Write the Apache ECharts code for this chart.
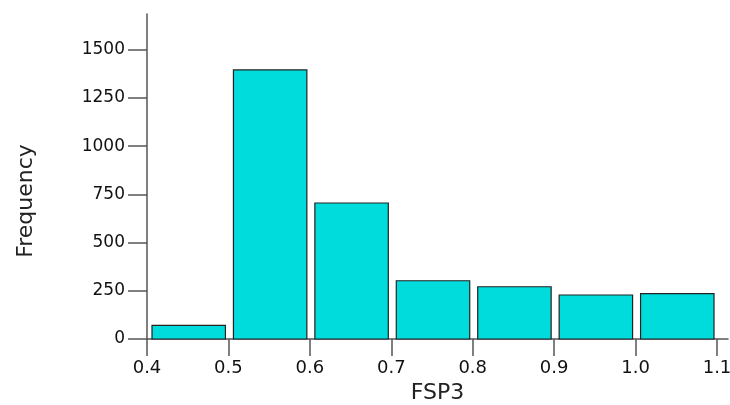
<!DOCTYPE html>
<html>
<head>
<meta charset="utf-8">
<script src="https://cdn.jsdelivr.net/npm/echarts@6/dist/echarts.min.js"></script>
<style>
  html, body { margin: 0; padding: 0; background: #fff; }
  #chart { width: 730px; height: 405px; }
</style>
</head>
<body>
<div id="chart"></div>
<script>
// histogram bins (FSP3) and counts
const binStarts = [0.4, 0.5, 0.6, 0.7, 0.8, 0.9, 1.0];
const binEnds = [0.5, 0.6, 0.7, 0.8, 0.9, 1.0, 1.1];
const counts = [71, 1395, 705, 302, 271, 228, 235];
const xTicks = [0.4, 0.5, 0.6, 0.7, 0.8, 0.9, 1.0, 1.1];
const yTicks = [0, 250, 500, 750, 1000, 1250, 1500];

let binData = binStarts.map((s, i) => [s, binEnds[i], counts[i]]);

let chart = echarts.init(document.getElementById('chart'));
let axisColor = '#555';
let font = 'DejaVu Sans, Verdana, sans-serif';

chart.setOption({
    animation: false,
    grid: { left: 147, right: 2, top: 14, bottom: 66, outerBoundsMode: 'none' },
    xAxis: {
        type: 'value',
        min: 0.4,
        max: 1.1135,
        name: 'FSP3',
        nameLocation: 'middle',
        nameGap: 41,
        nameTextStyle: { color: '#222', fontSize: 22, fontFamily: font },
        splitLine: { show: false },
        axisLine: { onZero: false, lineStyle: { color: axisColor, width: 1.5 } },
        axisTick: { customValues: xTicks, inside: false, length: 17, lineStyle: { color: axisColor, width: 1.5 } },
        axisLabel: {
            customValues: xTicks,
            color: '#111', fontSize: 18, fontFamily: font, margin: 20,
            formatter: v => v.toFixed(1)
        }
    },
    yAxis: {
        type: 'value',
        min: 0,
        max: 1685,
        name: 'Frequency',
        nameLocation: 'middle',
        nameGap: 110,
        nameTextStyle: { color: '#222', fontSize: 22, fontFamily: font, padding: [0, 49, 0, 0] },
        splitLine: { show: false },
        axisLine: { show: true, lineStyle: { color: axisColor, width: 1.5 } },
        axisTick: { show: true, inside: false, customValues: yTicks, length: 19, lineStyle: { color: axisColor, width: 1.5 } },
        axisLabel: {
            customValues: yTicks, color: '#111', fontSize: 17, fontFamily: font, margin: 22,
            formatter: v => String(v)
        }
    },
    series: [{
        type: 'custom',
        data: binData,
        encode: { x: [0, 1], y: 2 },
        renderItem: function (params, api) {
            let p0 = api.coord([api.value(0), 0]);
            let p1 = api.coord([api.value(1), api.value(2)]);
            return {
                type: 'rect',
                shape: { x: p0[0] + 5, y: p1[1], width: p1[0] - p0[0] - 8, height: p0[1] - p1[1] },
                style: { fill: '#00dcdc', stroke: '#222', lineWidth: 1.2 }
            };
        }
    }]
});
</script>
</body>
</html>
